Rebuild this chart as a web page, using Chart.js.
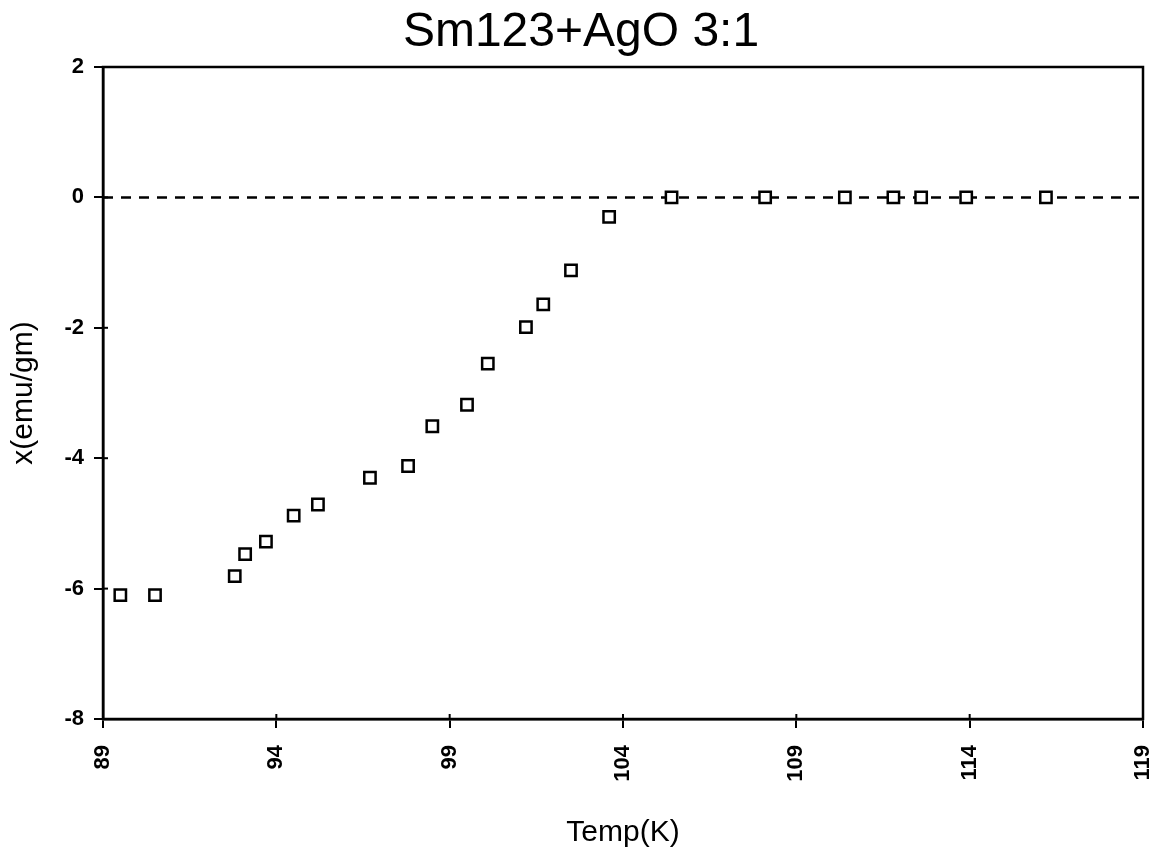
<!DOCTYPE html>
<html>
<head>
<meta charset="utf-8">
<script src="https://cdn.jsdelivr.net/npm/chart.js@4/dist/chart.umd.min.js"></script>
<style>
  body { margin: 0; background: #fff; }
  canvas { display: block; }
</style>
</head>
<body>
<canvas id="chi_graph" width="1158" height="857"></canvas>
<script>
// chart text
const chartTitle = 'Sm123+AgO 3:1';
const xTitle = 'Temp(K)';
const yTitle = 'x(emu/gm)';

const temps = [89.5, 90.5, 92.8, 93.1, 93.7, 94.5, 95.2, 96.7, 97.8, 98.5, 99.5, 100.1,
               101.2, 101.7, 102.5, 103.6, 105.4, 108.1, 110.4, 111.8, 112.6, 113.9, 116.2];
const chi = [-6.1, -6.1, -5.81, -5.47, -5.28, -4.88, -4.71, -4.3, -4.12, -3.51, -3.18, -2.55,
             -1.99, -1.64, -1.12, -0.3, 0, 0, 0, 0, 0, 0, 0];

// dashed reference line at zero
const zeroX = [89, 119];
const zeroY = [0, 0];

// axis ranges / ticks
const xMin = 89, xMax = 119, xStep = 5;
const yMin = -8, yMax = 2, yStep = 2;

const font = '"Liberation Sans", Arial, sans-serif';

let points = temps.map(function(t, i){ return {x: t, y: chi[i]}; });
let zeroLine = zeroX.map(function(t, i){ return {x: t, y: zeroY[i]}; });

// frame round the plot, inner tick marks and the title
const framePlugin = {
    id: 'frame',
    beforeDatasetsDraw(chart){
        let ctx = chart.ctx;
        let a = chart.chartArea;
        ctx.save();
        ctx.strokeStyle = '#000';
        ctx.lineWidth = 2.5;
        ctx.strokeRect(a.left, a.top, a.right - a.left, a.bottom - a.top);
        // little ticks pointing into the plot
        ctx.lineWidth = 2;
        chart.scales.x.ticks.forEach(function(t){
            let px = chart.scales.x.getPixelForValue(t.value);
            ctx.beginPath();
            ctx.moveTo(px, a.bottom);
            ctx.lineTo(px, a.bottom - 5);
            ctx.stroke();
        });
        chart.scales.y.ticks.forEach(function(t){
            let py = chart.scales.y.getPixelForValue(t.value);
            ctx.beginPath();
            ctx.moveTo(a.left, py);
            ctx.lineTo(a.left + 5, py);
            ctx.stroke();
        });
        ctx.restore();
    },
    afterDraw(chart){
        let ctx = chart.ctx;
        ctx.save();
        ctx.fillStyle = '#000';
        ctx.font = '48px ' + font;
        ctx.textAlign = 'center';
        ctx.textBaseline = 'middle';
        ctx.fillText(chartTitle, 581, 33);
        ctx.restore();
    }
};

new Chart(document.getElementById('chi_graph'), {
    type: 'scatter',
    data: {
        datasets: [{
            data: points,
            pointStyle: 'rect',
            pointRadius: 8,
            pointHoverRadius: 8,
            pointBackgroundColor: '#fff',
            pointBorderColor: '#000',
            pointBorderWidth: 2.5,
            showLine: false
        }, {
            data: zeroLine,
            showLine: true,
            pointRadius: 0,
            borderColor: '#000',
            borderWidth: 2.5,
            borderDash: [10, 8]
        }]
    },
    plugins: [framePlugin],
    options: {
        responsive: false,
        animation: false,
        layout: {padding: {top: 67, right: 15, left: 0, bottom: 0}},
        plugins: {
            legend: {display: false},
            tooltip: {enabled: false}
        },
        scales: {
            x: {
                type: 'linear',
                min: xMin,
                max: xMax,
                afterFit: function(scale){
                    scale.height = 138;
                    scale.paddingLeft = 0;
                    scale.paddingRight = 0;
                },
                ticks: {
                    stepSize: xStep,
                    minRotation: 90,
                    maxRotation: 90,
                    padding: 17,
                    color: '#000',
                    font: {family: font, size: 22, weight: 'bold'}
                },
                grid: {drawOnChartArea: false, color: '#000', lineWidth: 2, tickLength: 9},
                border: {color: '#000', width: 2.5},
                title: {
                    display: true,
                    text: xTitle,
                    color: '#000',
                    font: {family: font, size: 30},
                    padding: {top: 0, bottom: 6}
                }
            },
            y: {
                type: 'linear',
                min: yMin,
                max: yMax,
                afterFit: function(scale){ scale.width = 103; },
                ticks: {
                    stepSize: yStep,
                    padding: 10,
                    color: '#000',
                    font: {family: font, size: 22, weight: 'bold'}
                },
                grid: {drawOnChartArea: false, color: '#000', lineWidth: 2, tickLength: 9},
                border: {color: '#000', width: 2.5},
                title: {
                    display: true,
                    text: yTitle,
                    color: '#000',
                    font: {family: font, size: 30},
                    padding: {top: 6, bottom: 0}
                }
            }
        }
    }
});
</script>
</body>
</html>
